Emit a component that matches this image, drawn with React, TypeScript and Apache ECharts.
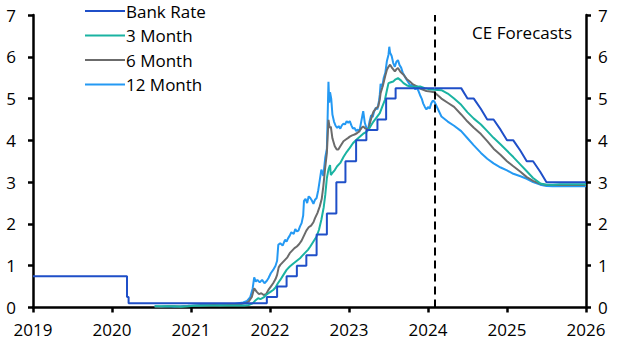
import React, { useEffect, useRef } from "react";
import * as echarts from "echarts";

// ---- Data (decimal years, %) ----
const xTicks = [2019, 2020, 2021, 2022, 2023, 2024, 2025, 2026];
const yTicks = [0, 1, 2, 3, 4, 5, 6, 7];
const forecastStart = 2024.08;
const forecastLabel = "CE Forecasts";
const seriesNames = ["Bank Rate", "3 Month", "6 Month", "12 Month"];

const bankRateHistory: [number, number][] = [
  [2019.0, 0.75], [2020.19, 0.25], [2020.21, 0.1], [2021.96, 0.25], [2022.09, 0.5],
  [2022.21, 0.75], [2022.34, 1.0], [2022.46, 1.25], [2022.59, 1.75], [2022.72, 2.25],
  [2022.84, 3.0], [2022.955, 3.5], [2023.09, 4.0], [2023.22, 4.25], [2023.36, 4.5],
  [2023.47, 5.0], [2023.59, 5.25], [2024.08, 5.25],
];
const bankRateForecast: [number, number][] = [
  [2024.08, 5.25], [2024.17, 5.25], [2024.25, 5.25], [2024.33, 5.25], [2024.42, 5.25],
  [2024.5, 5.0], [2024.58, 5.0], [2024.67, 4.75], [2024.75, 4.5], [2024.83, 4.5],
  [2024.92, 4.25], [2025.0, 4.0], [2025.08, 4.0], [2025.17, 3.75], [2025.25, 3.5],
  [2025.33, 3.5], [2025.42, 3.25], [2025.5, 3.0], [2025.58, 3.0], [2025.67, 3.0],
  [2025.75, 3.0], [2025.83, 3.0], [2025.92, 3.0], [2026.0, 3.0],
];

const m3History: [number, number][] = [
  [2020.54, 0.03], [2020.62, 0.03], [2020.71, 0.03], [2020.79, 0.03], [2020.87, 0.02],
  [2020.96, 0.03], [2021.04, 0.04], [2021.12, 0.04], [2021.21, 0.05], [2021.29, 0.05],
  [2021.37, 0.05], [2021.46, 0.05], [2021.54, 0.05], [2021.62, 0.05], [2021.68, 0.05],
  [2021.73, 0.06], [2021.78, 0.1], [2021.81, 0.16], [2021.85, 0.22], [2021.88, 0.2],
  [2021.92, 0.24], [2021.95, 0.3], [2021.98, 0.34], [2022.01, 0.38], [2022.04, 0.42],
  [2022.07, 0.48], [2022.1, 0.58], [2022.13, 0.66], [2022.17, 0.78], [2022.21, 0.9],
  [2022.25, 0.98], [2022.3, 1.06], [2022.34, 1.12], [2022.38, 1.18], [2022.41, 1.24],
  [2022.44, 1.3], [2022.48, 1.38], [2022.51, 1.46], [2022.55, 1.58], [2022.59, 1.7],
  [2022.62, 1.86], [2022.65, 2.1], [2022.68, 2.4], [2022.7, 2.7], [2022.72, 3.1],
  [2022.74, 3.3], [2022.76, 3.41], [2022.77, 3.17], [2022.79, 3.22], [2022.82, 3.29],
  [2022.85, 3.38], [2022.89, 3.46], [2022.93, 3.6], [2022.97, 3.72], [2023.01, 3.82],
  [2023.05, 3.93], [2023.09, 4.01], [2023.14, 4.09], [2023.18, 4.16], [2023.22, 4.2],
  [2023.245, 4.25], [2023.28, 4.36], [2023.31, 4.45], [2023.35, 4.55], [2023.39, 4.65],
  [2023.42, 4.8], [2023.455, 4.97], [2023.48, 5.2], [2023.5, 5.37], [2023.53, 5.39],
  [2023.56, 5.41], [2023.59, 5.46], [2023.62, 5.49], [2023.66, 5.43], [2023.69, 5.37],
  [2023.73, 5.32], [2023.77, 5.29], [2023.83, 5.28], [2023.9, 5.29], [2023.96, 5.25],
  [2024.02, 5.22], [2024.08, 5.21],
];
const m3Forecast: [number, number][] = [
  [2024.17, 5.2], [2024.25, 5.12], [2024.33, 5.0], [2024.42, 4.85], [2024.5, 4.67],
  [2024.58, 4.52], [2024.67, 4.38], [2024.75, 4.22], [2024.83, 4.06], [2024.92, 3.9],
  [2025.0, 3.75], [2025.08, 3.6], [2025.17, 3.42], [2025.25, 3.26], [2025.33, 3.1],
  [2025.42, 2.97], [2025.5, 2.94], [2025.58, 2.94], [2025.67, 2.95], [2025.75, 2.95],
  [2025.83, 2.95], [2025.92, 2.95], [2026.0, 2.95],
];

const m6History: [number, number][] = [
  [2020.54, 0.02], [2020.62, 0.02], [2020.71, 0.03], [2020.79, 0.03], [2020.87, 0.02],
  [2020.96, 0.03], [2021.04, 0.04], [2021.12, 0.05], [2021.21, 0.05], [2021.29, 0.06],
  [2021.37, 0.05], [2021.46, 0.06], [2021.54, 0.07], [2021.62, 0.08], [2021.68, 0.1],
  [2021.73, 0.14], [2021.77, 0.25], [2021.8, 0.46], [2021.83, 0.38], [2021.86, 0.32],
  [2021.89, 0.34], [2021.92, 0.3], [2021.95, 0.32], [2021.98, 0.42], [2022.01, 0.5],
  [2022.04, 0.58], [2022.07, 0.68], [2022.09, 0.78], [2022.11, 0.96], [2022.13, 1.02],
  [2022.16, 1.08], [2022.19, 1.14], [2022.22, 1.2], [2022.25, 1.3], [2022.28, 1.36],
  [2022.31, 1.42], [2022.34, 1.46], [2022.37, 1.52], [2022.4, 1.6], [2022.43, 1.72],
  [2022.46, 1.84], [2022.49, 1.92], [2022.52, 1.96], [2022.55, 2.04], [2022.57, 2.14],
  [2022.6, 2.26], [2022.63, 2.42], [2022.655, 2.6], [2022.675, 2.9], [2022.7, 3.37],
  [2022.72, 3.7], [2022.74, 4.49], [2022.755, 4.3], [2022.77, 4.33], [2022.79, 4.05],
  [2022.82, 3.86], [2022.845, 3.78], [2022.865, 3.78], [2022.89, 3.86], [2022.91, 3.92],
  [2022.93, 3.98], [2022.96, 4.02], [2022.99, 4.06], [2023.01, 4.09], [2023.04, 4.12],
  [2023.07, 4.14], [2023.1, 4.17], [2023.13, 4.22], [2023.16, 4.3], [2023.18, 4.33],
  [2023.21, 4.28], [2023.245, 4.25], [2023.27, 4.45], [2023.29, 4.58], [2023.31, 4.69],
  [2023.34, 4.76], [2023.37, 4.81], [2023.39, 4.98], [2023.4, 5.13], [2023.43, 5.32],
  [2023.46, 5.55], [2023.48, 5.69], [2023.5, 5.76], [2023.52, 5.81], [2023.55, 5.72],
  [2023.58, 5.65], [2023.6, 5.7], [2023.62, 5.73], [2023.65, 5.64], [2023.69, 5.57],
  [2023.73, 5.47], [2023.77, 5.41], [2023.81, 5.34], [2023.86, 5.29], [2023.9, 5.24],
  [2023.94, 5.21], [2023.98, 5.18], [2024.03, 5.17], [2024.08, 5.15],
];
const m6Forecast: [number, number][] = [
  [2024.17, 5.0], [2024.25, 4.9], [2024.33, 4.8], [2024.42, 4.62], [2024.5, 4.45],
  [2024.58, 4.3], [2024.67, 4.15], [2024.75, 3.98], [2024.83, 3.8], [2024.92, 3.65],
  [2025.0, 3.5], [2025.08, 3.38], [2025.17, 3.25], [2025.25, 3.12], [2025.33, 3.03],
  [2025.42, 2.96], [2025.5, 2.93], [2025.58, 2.93], [2025.67, 2.93], [2025.75, 2.93],
  [2025.83, 2.93], [2025.92, 2.93], [2026.0, 2.93],
];

const m12History: [number, number][] = [
  [2020.54, 0.03], [2020.62, 0.02], [2020.71, 0.03], [2020.79, 0.02], [2020.87, 0.03],
  [2020.96, 0.04], [2021.04, 0.05], [2021.12, 0.06], [2021.21, 0.07], [2021.29, 0.07],
  [2021.37, 0.06], [2021.46, 0.07], [2021.54, 0.08], [2021.6, 0.1], [2021.66, 0.12],
  [2021.71, 0.16], [2021.75, 0.25], [2021.78, 0.45], [2021.8, 0.72], [2021.82, 0.62],
  [2021.84, 0.66], [2021.87, 0.6], [2021.9, 0.66], [2021.93, 0.58], [2021.96, 0.64],
  [2021.98, 0.7], [2022.01, 0.82], [2022.04, 0.9], [2022.07, 1.0], [2022.09, 1.12],
  [2022.105, 1.5], [2022.13, 1.54], [2022.16, 1.48], [2022.19, 1.62], [2022.21, 1.58],
  [2022.23, 1.66], [2022.25, 1.72], [2022.27, 1.8], [2022.3, 1.76], [2022.32, 1.88],
  [2022.34, 1.82], [2022.36, 1.84], [2022.38, 1.94], [2022.4, 2.02], [2022.42, 2.2],
  [2022.43, 2.55], [2022.45, 2.6], [2022.47, 2.5], [2022.49, 2.66], [2022.51, 2.62],
  [2022.53, 2.56], [2022.55, 2.48], [2022.57, 2.58], [2022.59, 2.62], [2022.61, 2.8],
  [2022.63, 3.05], [2022.65, 3.3], [2022.675, 3.15], [2022.7, 3.6], [2022.72, 3.8],
  [2022.735, 5.0], [2022.74, 5.4], [2022.75, 4.9], [2022.76, 5.15], [2022.775, 5.0],
  [2022.79, 4.62], [2022.81, 4.45], [2022.83, 4.35], [2022.85, 4.3], [2022.87, 4.34],
  [2022.89, 4.28], [2022.91, 4.36], [2022.93, 4.4], [2022.95, 4.38], [2022.97, 4.46],
  [2022.99, 4.42], [2023.01, 4.46], [2023.03, 4.36], [2023.05, 4.28], [2023.07, 4.3],
  [2023.09, 4.22], [2023.11, 4.26], [2023.13, 4.2], [2023.15, 4.4], [2023.17, 4.6],
  [2023.18, 4.7], [2023.2, 4.42], [2023.22, 4.3], [2023.24, 4.25], [2023.26, 4.45],
  [2023.28, 4.6], [2023.3, 4.56], [2023.32, 4.7], [2023.34, 4.78], [2023.36, 4.74],
  [2023.38, 4.95], [2023.39, 5.1], [2023.4, 5.35], [2023.42, 5.28], [2023.44, 5.5],
  [2023.46, 5.62], [2023.48, 5.9], [2023.5, 6.05], [2023.51, 6.24], [2023.52, 6.1],
  [2023.54, 6.02], [2023.56, 5.85], [2023.58, 5.76], [2023.6, 5.88], [2023.62, 5.92],
  [2023.64, 5.8], [2023.66, 5.74], [2023.68, 5.62], [2023.7, 5.55], [2023.72, 5.48],
  [2023.74, 5.42], [2023.76, 5.36], [2023.78, 5.3], [2023.8, 5.34], [2023.82, 5.28],
  [2023.84, 5.22], [2023.86, 5.26], [2023.88, 5.18], [2023.9, 5.08], [2023.92, 5.0],
  [2023.94, 4.88], [2023.96, 4.8], [2023.98, 4.74], [2024.0, 4.8], [2024.02, 4.76],
  [2024.04, 4.88], [2024.06, 4.95], [2024.08, 4.93],
];
const m12Forecast: [number, number][] = [
  [2024.17, 4.57], [2024.25, 4.45], [2024.33, 4.35], [2024.42, 4.22], [2024.5, 4.05],
  [2024.58, 3.88], [2024.67, 3.7], [2024.75, 3.56], [2024.83, 3.45], [2024.92, 3.35],
  [2025.0, 3.28], [2025.08, 3.2], [2025.17, 3.14], [2025.25, 3.08], [2025.33, 3.0],
  [2025.42, 2.94], [2025.5, 2.91], [2025.58, 2.9], [2025.67, 2.9], [2025.75, 2.9],
  [2025.83, 2.9], [2025.92, 2.9], [2026.0, 2.9],
];

const colors = {
  bank: "#1f4fc8",
  m3: "#1ab3a2",
  m6: "#6b6b6b",
  m12: "#2499f3",
};

const FONT = "Open Sans";
const FS = 17;

export default function App() {
  const ref = useRef<HTMLDivElement>(null);
  useEffect(() => {
    if (!ref.current) return;
    const chart = echarts.init(ref.current, null, { renderer: "svg" });
    const axisStyle = { color: "#000", width: 2.5 };
    const yAxisCommon = {
      type: "value" as const,
      min: yTicks[0],
      max: yTicks[yTicks.length - 1],
      interval: 1,
      axisLine: { show: true, lineStyle: axisStyle },
      axisTick: { show: true, length: 5, lineStyle: axisStyle },
      splitLine: { show: false },
    };
    const labelStyle = { color: "#000", fontSize: FS, fontFamily: FONT };
    const lineSeries = (name: string, data: [number, number][], color: string, extra: any = {}) => ({
      name,
      type: "line",
      data,
      showSymbol: false,
      symbol: "none",
      color,
      lineStyle: { color, width: 2 },
      z: 2,
      ...extra,
    });
    chart.setOption({
      animation: false,
      grid: { left: 33, right: 41, top: 15, bottom: 44.5 },
      legend: {
        data: seriesNames,
        orient: "vertical",
        left: 80,
        top: -4,
        icon: "rect",
        itemWidth: 40,
        itemHeight: 2,
        itemGap: 4.5,
        textStyle: { ...labelStyle, lineHeight: 20, padding: [0, 0, 0, -4] },
      },
      xAxis: {
        type: "value",
        min: xTicks[0],
        max: xTicks[xTicks.length - 1],
        interval: 1,
        axisLine: { show: true, lineStyle: axisStyle },
        axisTick: { show: true, length: 5, lineStyle: axisStyle },
        splitLine: { show: false },
        axisLabel: { ...labelStyle, margin: 13, formatter: (v: number) => String(v) },
      },
      yAxis: [
        { ...yAxisCommon, position: "left", axisLabel: { ...labelStyle, margin: 17 } },
        { ...yAxisCommon, position: "right", axisLabel: { ...labelStyle, margin: 12 } },
      ],
      graphic: [
        {
          type: "text",
          right: 55,
          top: 24,
          style: { text: forecastLabel, fill: "#000", fontSize: FS, fontFamily: FONT },
        },
      ],
      series: [
        lineSeries("12 Month", [...m12History, ...m12Forecast], colors.m12),
        lineSeries("6 Month", [...m6History, ...m6Forecast], colors.m6),
        lineSeries("3 Month", [...m3History, ...m3Forecast], colors.m3),
        lineSeries("Bank Rate", bankRateHistory, colors.bank, {
          step: "end",
          z: 3,
          markLine: {
            silent: true,
            symbol: "none",
            label: { show: false },
            lineStyle: { color: "#000", width: 2, type: [8, 5] },
            data: [{ xAxis: forecastStart }],
          },
        }),
        lineSeries("Bank Rate", bankRateForecast, colors.bank, { z: 3 }),
      ],
    });
    return () => chart.dispose();
  }, []);
  return (
    <div
      ref={ref}
      style={{ position: "fixed", left: 0, top: 0, width: 627, height: 352, background: "#fff" }}
    />
  );
}
